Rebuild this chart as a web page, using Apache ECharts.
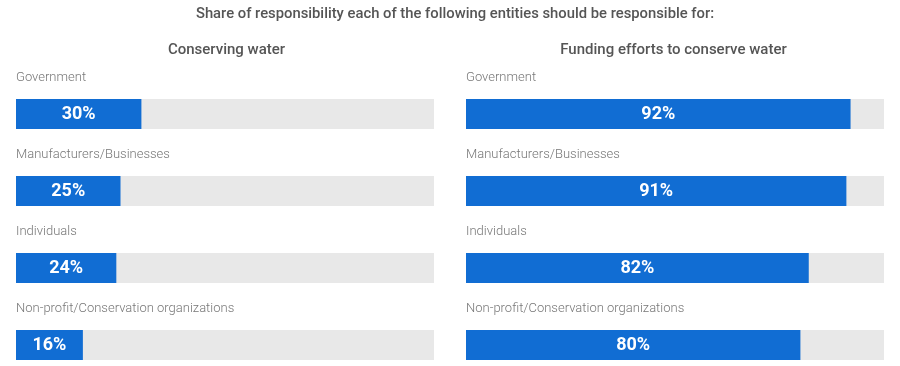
<!DOCTYPE html>
<html><head><meta charset="utf-8">
<script src="https://cdn.jsdelivr.net/npm/echarts@6/dist/echarts.min.js"></script>
<style>html,body{margin:0;padding:0;background:#fff}#c{width:900px;height:366px}</style>
</head><body><div id="c"></div>
<script>
const categories = ["Government", "Manufacturers/Businesses", "Individuals", "Non-profit/Conservation organizations"];
const conservingWater = [30, 25, 24, 16];
const fundingEfforts = [92, 91, 82, 80];
const mainTitle = "Share of responsibility each of the following entities should be responsible for:";
const panelTitles = ["Conserving water", "Funding efforts to conserve water"];

const FONT = 'Roboto, "Noto Sans", sans-serif';
const chart = echarts.init(document.getElementById('c'), null, {renderer: 'canvas'});
const panels = [{left: 16, data: conservingWater, tx: 221.5}, {left: 466, data: fundingEfforts, tx: 668.5}];

chart.setOption({
  animation: false,
  title: [
    {text: mainTitle, left: 450, top: 2, textAlign: 'center',
     textStyle: {fontFamily: FONT, fontSize: 14.8, fontWeight: 500, color: '#555'}},
    {text: panelTitles[0], left: panels[0].tx, top: 38, textAlign: 'center',
     textStyle: {fontFamily: FONT, fontSize: 15, fontWeight: 500, color: '#555'}},
    {text: panelTitles[1], left: panels[1].tx, top: 38, textAlign: 'center',
     textStyle: {fontFamily: FONT, fontSize: 15, fontWeight: 500, color: '#555'}}
  ],
  grid: panels.map(p => ({left: p.left, width: 418, top: 114, height: 231, containLabel: false, outerBoundsMode: 'none'})),
  xAxis: panels.map((p, i) => ({type: 'value', gridIndex: i, min: 0, max: 100, show: false})),
  yAxis: panels.map((p, i) => ({
    type: 'category', gridIndex: i, data: categories, inverse: true, boundaryGap: false,
    axisLine: {show: false}, axisTick: {show: false}, splitLine: {show: false},
    z: 10,
    axisLabel: {show: true, interval: 0, inside: true, margin: 0, align: 'left', verticalAlign: 'middle',
      formatter: v => '{t|' + v + '}\n{s| }',
      rich: {
        t: {fontFamily: FONT, fontSize: 13, color: '#777', fontWeight: 300, lineHeight: 16},
        s: {fontSize: 1, height: 72, lineHeight: 72}
      }}
  })),
  series: panels.map((p, i) => ({
    type: 'bar', xAxisIndex: i, yAxisIndex: i, data: p.data, barWidth: 30, clip: false,
    itemStyle: {color: '#116dd3'},
    showBackground: true, backgroundStyle: {color: '#e8e8e8'},
    label: {show: true, position: 'inside', formatter: '{c}%', color: '#fff',
      fontFamily: FONT, fontSize: 18, fontWeight: 'bold'}
  }))
});
</script></body></html>
